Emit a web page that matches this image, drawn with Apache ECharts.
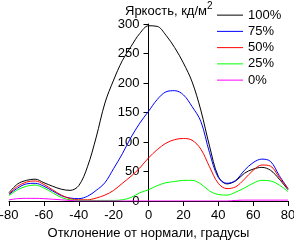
<!DOCTYPE html>
<html><head><meta charset="utf-8">
<script src="https://cdn.jsdelivr.net/npm/echarts@6/dist/echarts.min.js"></script>
<style>html,body{margin:0;padding:0;background:#fff}#c{width:294px;height:242px}</style>
</head><body><div id="c"></div>
<script>
const angles = [-80,-75,-70,-65,-60,-55,-50,-45,-40,-35,-30,-25,-20,-15,-10,-5,0,5,10,15,20,25,30,35,40,45,50,55,60,65,70,75,80];
const s100 = [14,29,35,37,31,25,20,18,26,58,108,166,205,238,262,284,297,296,281,260,234,202,154,93,42,29,34,47,54,57,52,37,19];
const s75  = [11,22,29,30,25,17,9,5,4,8,18,31,55,80,108,132,152,172,185,187,180,160,135,82,40,30,35,52,65,71,67,43,21];
const s50  = [12,25,32,34,28,19,10,4,2,2,5,10,18,30,42,56,73,87,98,104,106,103,88,58,30,21,24,37,52,61,59,40,21];
const s25  = [9,19,25,27,22,14,6,2,1,1,1,1,1,2,6,14,19,26,31,33,35,35,29,17,11,10,15,22,30,35,34,27,16];
const s0   = [2,4,4.5,4.5,4,3,2,1,0,0,0,0,0,0,0,0,0,0,0,0,0,0,0,0,0,0,1,1.5,1.5,1.5,1.5,1.5,1.5];
const seriesNames = ['100%','75%','50%','25%','0%'];
const seriesColors = ['#000000','#0000ff','#ff0000','#00ff00','#ff00ff'];
const seriesData = [s100,s75,s50,s25,s0];
const xTicks = {min:-80,max:80,interval:20};
const yTicks = {min:0,max:300,interval:50};
const yTitleMain = 'Яркость, кд/м';
const yTitleSup = '2';
const xTitle = 'Отклонение от нормали, градусы';

const font = "'Liberation Sans', Arial, sans-serif";
const gridLeft = 9, gridRight = 6;
const chartW = 294;
const plotW = chartW - gridLeft - gridRight;
const chart = echarts.init(document.getElementById('c'), null, {renderer:'canvas'});
chart.setOption({
  animation:false,
  backgroundColor:'#fff',
  title:{text:'{a|' + yTitleMain + '}{s|' + yTitleSup + '}',left:125,top:1,padding:0,
    textStyle:{fontFamily:font,fontSize:13,fontWeight:'normal',color:'#000',
      rich:{a:{fontFamily:font,fontSize:13,color:'#000',lineHeight:17,verticalAlign:'bottom'},
            s:{fontFamily:font,fontSize:10,color:'#000',lineHeight:10,verticalAlign:'top'}}}},
  legend:{orient:'vertical',left:217,top:7,padding:0,itemWidth:26,itemHeight:1,itemGap:0,icon:'rect',
    textStyle:{fontFamily:font,fontSize:13,color:'#000',lineHeight:16.25,padding:[0,0,0,0]},
    data:seriesNames},
  grid:{left:gridLeft,right:gridRight,top:24,bottom:41,containLabel:false,outerBoundsMode:'none'},
  xAxis:{type:'value',min:xTicks.min,max:xTicks.max,interval:xTicks.interval,
    name:xTitle,nameLocation:'middle',nameGap:23,
    nameTextStyle:{fontFamily:font,fontSize:13,color:'#000'},
    axisLine:{lineStyle:{color:'#000',width:1}},
    axisTick:{show:true,length:5,lineStyle:{color:'#000'}},
    axisLabel:{fontFamily:font,fontSize:13,color:'#000',margin:8},
    splitLine:{show:false}},
  yAxis:{type:'value',min:yTicks.min,max:yTicks.max,interval:yTicks.interval,
    position:'left',offset:-(plotW*(0 - xTicks.min)/(xTicks.max - xTicks.min)),
    axisLine:{show:true,onZero:false,lineStyle:{color:'#000',width:1}},
    axisTick:{show:true,length:5,lineStyle:{color:'#000'}},
    axisLabel:{show:true,fontFamily:font,fontSize:13,color:'#000',margin:9},
    splitLine:{show:false}},
  series:seriesNames.map((n,i)=>({
    name:n,type:'line',smooth:0.35,showSymbol:false,symbol:'none',
    color:seriesColors[i],
    lineStyle:{color:seriesColors[i],width:1},
    data:angles.map((a,j)=>[a,seriesData[i][j]])
  }))
});
</script></body></html>
